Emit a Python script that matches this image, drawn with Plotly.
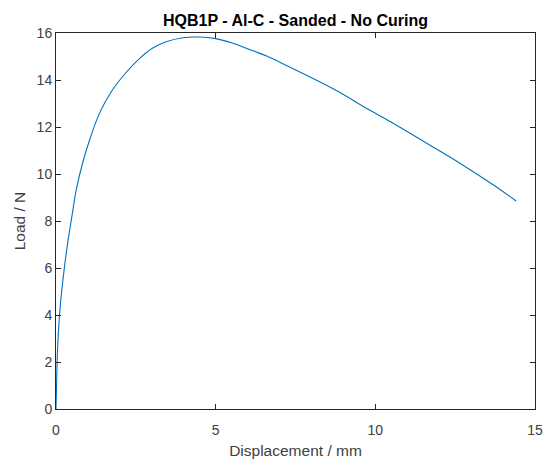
import plotly.graph_objects as go

displacement = [0.0, 0.02, 0.05, 0.11, 0.17, 0.27, 0.37, 0.51, 0.63, 0.84, 1.07, 1.36,
                1.73, 2.20, 2.62, 3.03, 3.45, 3.97, 4.49, 5.00, 5.54, 6.06, 6.58, 7.02,
                7.73, 8.78, 9.82, 10.57, 11.62, 12.66, 13.70, 14.41]
load = [0.0, 1.2, 2.6, 4.0, 4.9, 6.1, 7.1, 8.3, 9.3, 10.5, 11.52, 12.58,
        13.5, 14.33, 14.92, 15.36, 15.63, 15.8, 15.83, 15.76, 15.56, 15.3, 15.03, 14.75,
        14.28, 13.55, 12.72, 12.15, 11.3, 10.45, 9.53, 8.85]

x_ticks = [0, 5, 10, 15]
y_ticks = [0, 2, 4, 6, 8, 10, 12, 14, 16]

axis_col = "#262626"
text_col = "#404040"
font_fam = "Liberation Sans, Arial, sans-serif"

fig = go.Figure()
fig.add_trace(go.Scatter(x=displacement, y=load, mode="lines",
                         line=dict(color="#0072BD", width=1.1, shape="spline", smoothing=1.0),
                         showlegend=False, hoverinfo="skip"))

fig.update_layout(
    width=552, height=463,
    margin=dict(l=56, r=17, t=33, b=54),
    paper_bgcolor="white", plot_bgcolor="white",
    font=dict(family=font_fam, color=text_col, size=13),
    title=dict(text="<b>HQB1P - Al-C - Sanded - No Curing</b>", xref="paper", x=0.5, xanchor="center",
               y=1 - 20/463, yanchor="middle", font=dict(size=16, color="black", family=font_fam)),
)
fig.update_xaxes(range=[0, 15], tickvals=x_ticks, ticks="inside", ticklen=5, tickcolor=axis_col,
                 showline=True, linecolor=axis_col, linewidth=1, mirror="ticks",
                 showgrid=False, zeroline=False, ticklabelstandoff=8, automargin=False,
                 tickfont=dict(size=14, color=text_col),
                 title=dict(text="Displacement / mm", font=dict(size=15.5, color=text_col), standoff=8))
fig.update_yaxes(range=[0, 16], tickvals=y_ticks, ticks="inside", ticklen=5, tickcolor=axis_col,
                 showline=True, linecolor=axis_col, linewidth=1, mirror="ticks",
                 showgrid=False, zeroline=False, automargin=False,
                 tickfont=dict(size=14, color=text_col),
                 title=dict(text="Load / N", font=dict(size=15.5, color=text_col), standoff=7))

fig.write_html("out.html")
